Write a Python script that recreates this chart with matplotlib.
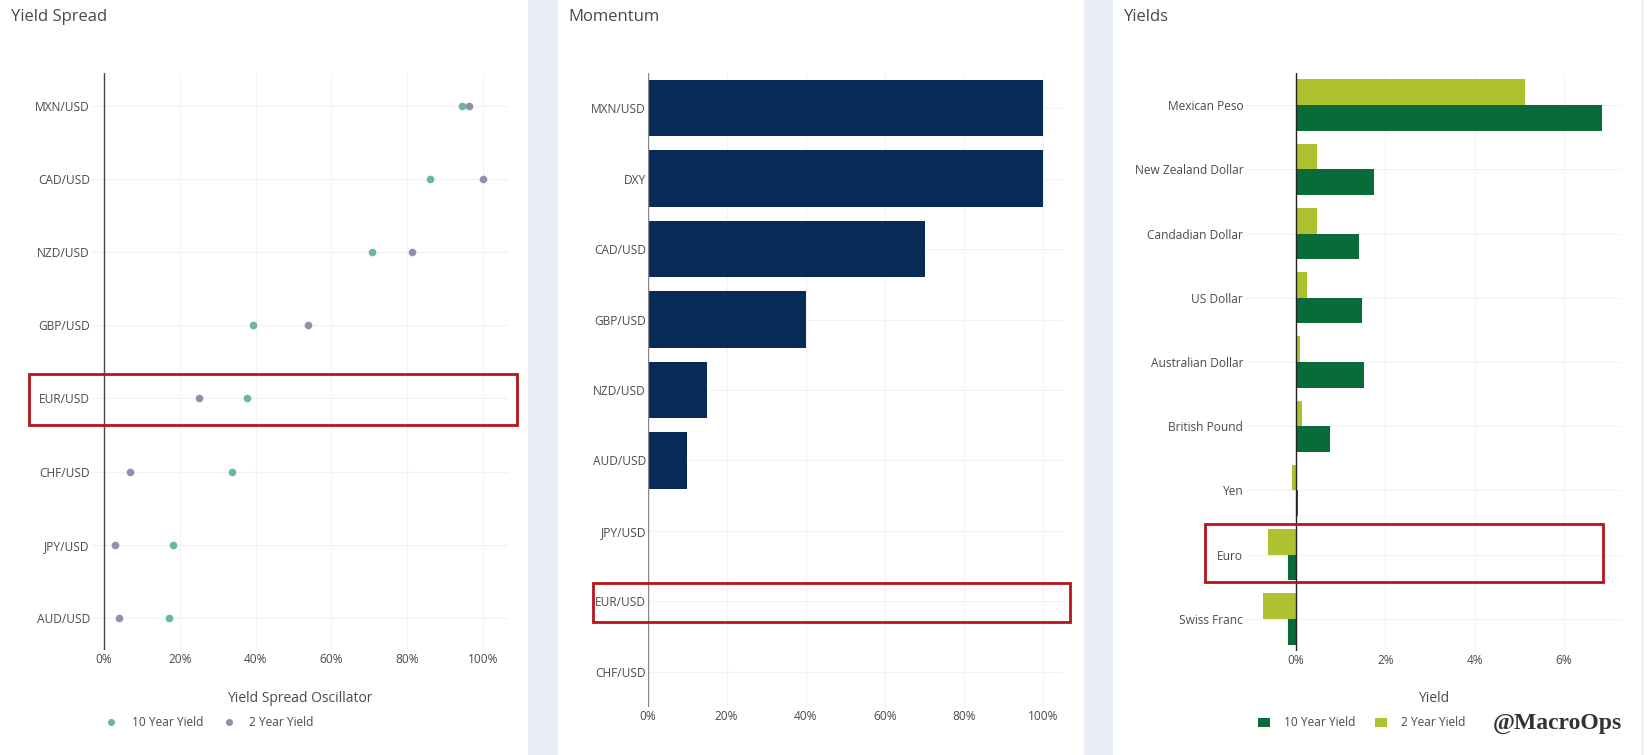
import matplotlib
matplotlib.use('Agg')
import matplotlib.pyplot as plt
from matplotlib.patches import Rectangle
from matplotlib.lines import Line2D
from matplotlib.ticker import PercentFormatter
from matplotlib.transforms import blended_transform_factory

# Yield Spread panel
spread_pairs = ['MXN/USD', 'CAD/USD', 'NZD/USD', 'GBP/USD', 'EUR/USD', 'CHF/USD', 'JPY/USD', 'AUD/USD']
spread_10y = [0.945, 0.861, 0.706, 0.392, 0.376, 0.337, 0.182, 0.170]
spread_2y = [0.964, 1.000, 0.812, 0.537, 0.251, 0.069, 0.030, 0.040]

# Momentum panel
mom_pairs = ['MXN/USD', 'DXY', 'CAD/USD', 'GBP/USD', 'NZD/USD', 'AUD/USD', 'JPY/USD', 'EUR/USD', 'CHF/USD']
mom_vals = [1.00, 1.00, 0.70, 0.40, 0.15, 0.10, 0.0, 0.0, 0.0]

# Yields panel (%)
yld_ccy = ['Mexican Peso', 'New Zealand Dollar', 'Candadian Dollar', 'US Dollar', 'Australian Dollar',
           'British Pound', 'Yen', 'Euro', 'Swiss Franc']
yld_10y = [6.86, 1.74, 1.41, 1.48, 1.52, 0.76, 0.05, -0.17, -0.19]
yld_2y = [5.13, 0.46, 0.46, 0.25, 0.10, 0.13, -0.09, -0.63, -0.73]

plt.rcParams['font.family'] = ['Open Sans', 'DejaVu Sans']
TXT = '#4a4a4a'
GRID = '#f2f2f2'
GAP = '#e9edf5'
RED = '#b8141c'
C_TEAL, C_GRAY = '#6ab79a', '#9090a8'
C_NAVY = '#072b57'
C_DARK, C_LIGHT = '#0a6b3a', '#aec22f'

W, H = 1648, 755
fig = plt.figure(figsize=(W / 100, H / 100), dpi=100, facecolor=GAP)


def px_axes(x0, y0, x1, y1):
    return fig.add_axes([x0 / W, 1 - y1 / H, (x1 - x0) / W, (y1 - y0) / H])


def panel(x0, x1):
    fig.add_artist(Rectangle((x0 / W, 0), (x1 - x0) / W, 1, transform=fig.transFigure,
                             facecolor='white', edgecolor='none', zorder=-5))


panel(0, 528)
panel(558, 1084)
panel(1113, 1648)
fig.add_artist(Line2D([1642 / W] * 2, [0, 1], color='#e4e4e4', lw=1, zorder=-4))

for x, t in [(11, 'Yield Spread'), (568, 'Momentum'), (1124, 'Yields')]:
    fig.text(x / W, 1 - 17 / H, t, fontsize=12, color=TXT, va='center', ha='left')


def style(ax, pad_y=1.5):
    ax.set_facecolor('none')
    for s in ax.spines.values():
        s.set_visible(False)
    ax.tick_params(length=0, labelsize=8.6, labelcolor=TXT, pad=2)
    ax.tick_params(axis='y', pad=pad_y)
    ax.grid(True, color=GRID, lw=0.8)
    ax.set_axisbelow(True)


def highlight(ax, idx, y0, y1, x0, x1):
    tr = blended_transform_factory(ax.transAxes, ax.transData)
    ax.add_patch(Rectangle((x0, idx + y0), x1 - x0, y1 - y0, transform=tr, fill=False,
                           edgecolor=RED, lw=2, clip_on=False, zorder=5))


# ---- Panel 1: Yield Spread ----
ax1 = px_axes(92, 73, 508, 650)
style(ax1)
pos1 = list(range(len(spread_pairs)))
ax1.plot(spread_10y, pos1, 'o', color=C_TEAL, ms=4.5, label='10 Year Yield', zorder=3)
ax1.plot(spread_2y, pos1, 'o', color=C_GRAY, ms=4.5, label='2 Year Yield', zorder=3)
ax1.axvline(0, color='#444444', lw=1, zorder=2)
ax1.set_yticks(pos1, spread_pairs)
ax1.set_xticks([0, 0.2, 0.4, 0.6, 0.8, 1.0])
ax1.xaxis.set_major_formatter(PercentFormatter(xmax=1, decimals=0))
ax1.set_xlim(-0.032, 1.066)
ax1.set_ylim(7.44, -0.45)
ax1.set_xlabel('Yield Spread Oscillator', fontsize=10, color=TXT)
ax1.xaxis.set_label_coords(0.5, -48 / 577)
ax1.xaxis.label.set_verticalalignment('center')
ax1.legend(loc='center left', bbox_to_anchor=(104 / W, 1 - 723 / H), bbox_transform=fig.transFigure,
           ncol=2, frameon=False, fontsize=8.6, labelcolor=TXT, handlelength=1.2,
           handletextpad=1.15, columnspacing=1.5, borderpad=0, borderaxespad=0, markerscale=0.9)
highlight(ax1, spread_pairs.index('EUR/USD'), -0.34, 0.36, -0.151, 1.022)

# ---- Panel 2: Momentum ----
ax2 = px_axes(647.5, 73, 1063, 707)
style(ax2, pad_y=1)
pos2 = list(range(len(mom_pairs)))
ax2.barh(pos2, mom_vals, height=0.8, color=C_NAVY, zorder=2)
ax2.axvline(0, color='#888888', lw=1, zorder=3)
ax2.set_yticks(pos2, mom_pairs)
ax2.set_xticks([0, 0.2, 0.4, 0.6, 0.8, 1.0])
ax2.xaxis.set_major_formatter(PercentFormatter(xmax=1, decimals=0))
ax2.set_xlim(0, 1.05)
ax2.set_ylim(8.5, -0.5)
highlight(ax2, mom_pairs.index('EUR/USD'), -0.26, 0.30, -0.13, 1.017)

# ---- Panel 3: Yields ----
ax3 = px_axes(1246, 73, 1621, 651)
style(ax3, pad_y=2)
pos3 = list(range(len(yld_ccy)))
ax3.barh([p + 0.2 for p in pos3], yld_10y, height=0.4, color=C_DARK, label='10 Year Yield', zorder=2)
ax3.barh([p - 0.2 for p in pos3], yld_2y, height=0.4, color=C_LIGHT, label='2 Year Yield', zorder=2)
ax3.axvline(0, color='#222222', lw=1, zorder=3)
ax3.set_yticks(pos3, yld_ccy)
ax3.set_xticks([0, 2, 4, 6])
ax3.xaxis.set_major_formatter(PercentFormatter(xmax=100, decimals=0))
ax3.set_xlim(-1.12, 7.28)
ax3.set_ylim(8.5, -0.5)
ax3.set_xlabel('Yield', fontsize=10, color=TXT)
ax3.xaxis.set_label_coords(0.5, -47 / 578)
ax3.xaxis.label.set_verticalalignment('center')
ax3.legend(loc='center left', bbox_to_anchor=(1258 / W, 1 - 723 / H), bbox_transform=fig.transFigure,
           ncol=2, frameon=False, fontsize=8.6, labelcolor=TXT, handlelength=1.0, handleheight=0.8,
           handletextpad=1.2, columnspacing=1.6, borderpad=0, borderaxespad=0)
highlight(ax3, yld_ccy.index('Euro'), -0.47, 0.42, -0.109, 0.951)

fig.text(1493 / W, 1 - 723 / H, '@MacroOps', fontsize=17, fontweight='bold',
         family='Liberation Serif', color='#333333', va='center', ha='left')

fig.savefig('out.png', dpi=100, facecolor=fig.get_facecolor())
